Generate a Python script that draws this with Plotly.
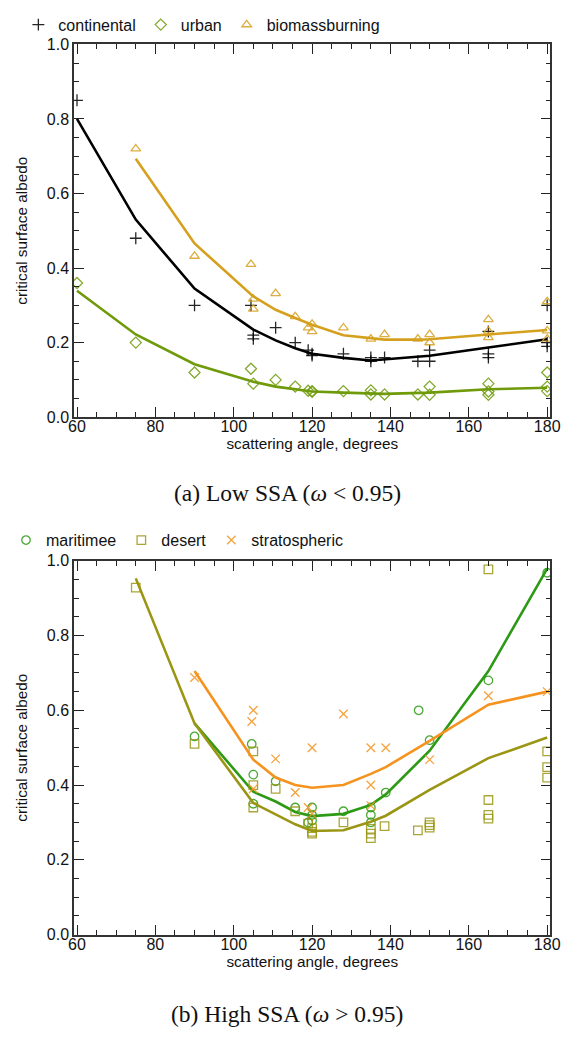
import plotly.graph_objects as go

# ---------------- Low SSA aerosol types ----------------
cont_angle = [60, 75, 90, 104.4, 105, 105, 110.7, 115.7, 119, 120, 120, 128, 135, 135,
              138.5, 147, 150, 150, 165, 165, 165, 180, 180, 180]
cont_albedo = [0.85, 0.48, 0.30, 0.30, 0.22, 0.21, 0.24, 0.20, 0.18, 0.17, 0.165, 0.17, 0.16, 0.15,
               0.16, 0.15, 0.18, 0.15, 0.23, 0.17, 0.16, 0.30, 0.20, 0.19]

urban_angle = [60, 75, 90, 104.4, 105, 110.7, 115.7, 119, 120, 120, 128, 135, 135,
               138.5, 147, 150, 150, 165, 165, 165, 180, 180, 180]
urban_albedo = [0.36, 0.20, 0.12, 0.13, 0.09, 0.10, 0.082, 0.071, 0.07, 0.068, 0.07, 0.072, 0.061,
                0.061, 0.061, 0.082, 0.06, 0.09, 0.069, 0.06, 0.12, 0.082, 0.07]

biom_angle = [75, 90, 104.4, 105, 105, 110.7, 115.7, 119, 120, 120, 128, 135, 138.5,
              147, 150, 150, 165, 165, 165, 180, 180, 180]
biom_albedo = [0.72, 0.432, 0.41, 0.317, 0.29, 0.332, 0.27, 0.24, 0.25, 0.23, 0.24, 0.21, 0.222,
               0.21, 0.222, 0.20, 0.262, 0.231, 0.214, 0.31, 0.232, 0.21]

# fitted curves
cont_fit_angle = [60, 75, 90, 105, 110.7, 115.7, 120, 128, 135, 150, 165, 180]
cont_fit = [0.80, 0.53, 0.345, 0.235, 0.206, 0.185, 0.17, 0.159, 0.152, 0.165, 0.187, 0.209]

urban_fit_angle = [60, 75, 90, 105, 110.7, 115.7, 120, 128, 135, 138.5, 150, 165, 180]
urban_fit = [0.339, 0.222, 0.142, 0.095, 0.082, 0.075, 0.069, 0.066, 0.063, 0.0625, 0.066, 0.075, 0.079]

biom_fit_angle = [75, 90, 105, 110.7, 115.7, 120, 128, 135, 138.5, 147, 150, 165, 180]
biom_fit = [0.693, 0.466, 0.324, 0.288, 0.266, 0.248, 0.22, 0.211, 0.208, 0.208, 0.209, 0.222, 0.234]

# ---------------- High SSA aerosol types ----------------
mari_angle = [90, 104.6, 105, 105, 110.7, 115.7, 119, 120, 120, 120, 128, 135, 135, 135,
              138.8, 147.2, 150, 165, 180]
mari_albedo = [0.53, 0.51, 0.428, 0.35, 0.41, 0.34, 0.30, 0.34, 0.32, 0.305, 0.33, 0.34, 0.32, 0.30,
               0.38, 0.60, 0.52, 0.68, 0.968]

desert_angle = [75, 90, 105, 105, 105, 110.7, 115.7, 119, 120, 120, 120, 128, 135, 135, 135,
                138.5, 147, 150, 150, 150, 165, 165, 165, 165, 180, 180, 180]
desert_albedo = [0.928, 0.51, 0.49, 0.40, 0.34, 0.39, 0.33, 0.297, 0.285, 0.275, 0.27, 0.30, 0.283,
                 0.27, 0.258, 0.29, 0.279, 0.30, 0.293, 0.286, 0.977, 0.36, 0.32, 0.31, 0.49, 0.448, 0.42]

strat_angle = [90, 105, 104.6, 105, 110.7, 115.7, 119, 120, 120, 128, 135, 135, 135,
               138.8, 150, 165, 180]
strat_albedo = [0.688, 0.60, 0.57, 0.39, 0.47, 0.38, 0.34, 0.50, 0.323, 0.59, 0.50, 0.40, 0.345,
                0.50, 0.468, 0.639, 0.65]

mari_fit_angle = [90, 105, 110.7, 115.7, 120, 128, 135, 138.8, 150, 165, 180]
mari_fit = [0.565, 0.382, 0.356, 0.328, 0.317, 0.323, 0.347, 0.375, 0.492, 0.705, 0.979]

desert_fit_angle = [75, 90, 105, 110.7, 115.7, 120, 128, 135, 138.8, 150, 165, 180]
desert_fit = [0.953, 0.565, 0.352, 0.321, 0.295, 0.277, 0.279, 0.302, 0.318, 0.387, 0.472, 0.527]

strat_fit_angle = [90, 105, 110.7, 115.7, 120, 128, 135, 138.8, 150, 165, 180]
strat_fit = [0.705, 0.468, 0.42, 0.40, 0.393, 0.40, 0.43, 0.448, 0.518, 0.615, 0.65]

C_CONT = "#000000"
C_URBAN = "#6f9a0a"
C_BIOM = "#d5a01e"
C_MARI = "#2c9a14"
C_DESERT = "#9a9614"
C_STRAT = "#f5931e"

W, H = 578, 1038
X0, X1 = 70, 560          # plot box, pixels
TOP_Y0, TOP_Y1 = 37, 416
BOT_Y0, BOT_Y1 = 562, 942

fig = go.Figure()


def add_series(name, ang, alb, fit_ang, fit, color, symbol, axis, legend):
    xa, ya = axis
    fig.add_trace(go.Scatter(
        x=fit_ang, y=fit, mode="lines", line=dict(color=color, width=2.6),
        xaxis=xa, yaxis=ya, showlegend=False, hoverinfo="skip"))
    fig.add_trace(go.Scatter(
        x=ang, y=alb, mode="markers", name=name, legend=legend,
        marker=dict(symbol=symbol, size=8.5, color=color, opacity=0.85,
                    line=dict(color=color, width=1.3)),
        xaxis=xa, yaxis=ya))


add_series("continental", cont_angle, cont_albedo, cont_fit_angle, cont_fit,
           C_CONT, "cross-thin", ("x", "y"), "legend")
add_series("urban", urban_angle, urban_albedo, urban_fit_angle, urban_fit,
           C_URBAN, "diamond-open", ("x", "y"), "legend")
add_series("biomassburning", biom_angle, biom_albedo, biom_fit_angle, biom_fit,
           C_BIOM, "triangle-up-open", ("x", "y"), "legend")

add_series("maritimee", mari_angle, mari_albedo, mari_fit_angle, mari_fit,
           C_MARI, "circle-open", ("x2", "y2"), "legend2")
add_series("desert", desert_angle, desert_albedo, desert_fit_angle, desert_fit,
           C_DESERT, "square-open", ("x2", "y2"), "legend2")
add_series("stratospheric", strat_angle, strat_albedo, strat_fit_angle, strat_fit,
           C_STRAT, "x-thin", ("x2", "y2"), "legend2")

SANS = "Liberation Sans, Arial, sans-serif"
TICK_FONT = dict(family=SANS, size=16, color="#111")
TITLE_FONT = dict(family=SANS, size=15.3, color="#111")
LEG_FONT = dict(family=SANS, size=16, color="#111")

common_x = dict(
    range=[59.25, 180.85], tickvals=[60, 80, 100, 120, 140, 160, 180],
    ticks="inside", ticklen=10, tickwidth=1.2, tickcolor="#222",
    minor=dict(ticks="inside", ticklen=5, dtick=5, tickcolor="#222", tickwidth=1),
    showline=True, linecolor="#333", linewidth=1.5, mirror="allticks",
    showgrid=False, zeroline=False, tickfont=TICK_FONT, ticklabelstandoff=-6,
    title=dict(text="scattering angle, degrees", font=TITLE_FONT, standoff=0),
)
common_y = dict(
    range=[0, 1], tickvals=[0, 0.2, 0.4, 0.6, 0.8, 1.0], tickformat=".1f",
    ticks="inside", ticklen=10, tickwidth=1.2, tickcolor="#222",
    minor=dict(ticks="inside", ticklen=5, dtick=0.05, tickcolor="#222", tickwidth=1),
    showline=True, linecolor="#333", linewidth=1.5, mirror="allticks",
    showgrid=False, zeroline=False, tickfont=TICK_FONT,
    title=dict(text="critical surface albedo", font=TITLE_FONT, standoff=15),
)

xdom = [X0 / W, X1 / W]
fig.update_layout(
    width=W, height=H, margin=dict(l=0, r=0, t=0, b=0),
    paper_bgcolor="white", plot_bgcolor="white",
    xaxis=dict(common_x, domain=xdom, anchor="y"),
    yaxis=dict(common_y, domain=[1 - TOP_Y1 / H, 1 - TOP_Y0 / H], anchor="x"),
    xaxis2=dict(common_x, domain=xdom, anchor="y2"),
    yaxis2=dict(common_y, domain=[1 - BOT_Y1 / H, 1 - BOT_Y0 / H], anchor="x2"),
    legend=dict(orientation="h", x=0.022, y=1 - 17 / H, xanchor="left", yanchor="middle",
                font=LEG_FONT, bgcolor="rgba(0,0,0,0)", itemwidth=30, tracegroupgap=0),
    legend2=dict(orientation="h", x=0.0, y=1 - 541 / H, xanchor="left", yanchor="middle",
                 font=LEG_FONT, bgcolor="rgba(0,0,0,0)", itemwidth=30, tracegroupgap=0),
    showlegend=True,
)

CAP_FONT = dict(family="Liberation Serif, Times New Roman, serif", size=23.5, color="#111")
fig.add_annotation(text="(a) Low SSA (<i>ω</i> < 0.95)", xref="paper", yref="paper",
                   x=0.5, y=1 - 493 / H, showarrow=False, font=CAP_FONT,
                   xanchor="center", yanchor="middle")
fig.add_annotation(text="(b) High SSA (<i>ω</i> > 0.95)", xref="paper", yref="paper",
                   x=0.5, y=1 - 1023 / H, showarrow=False, font=CAP_FONT,
                   xanchor="center", yanchor="middle")

fig.write_html("out.html")
